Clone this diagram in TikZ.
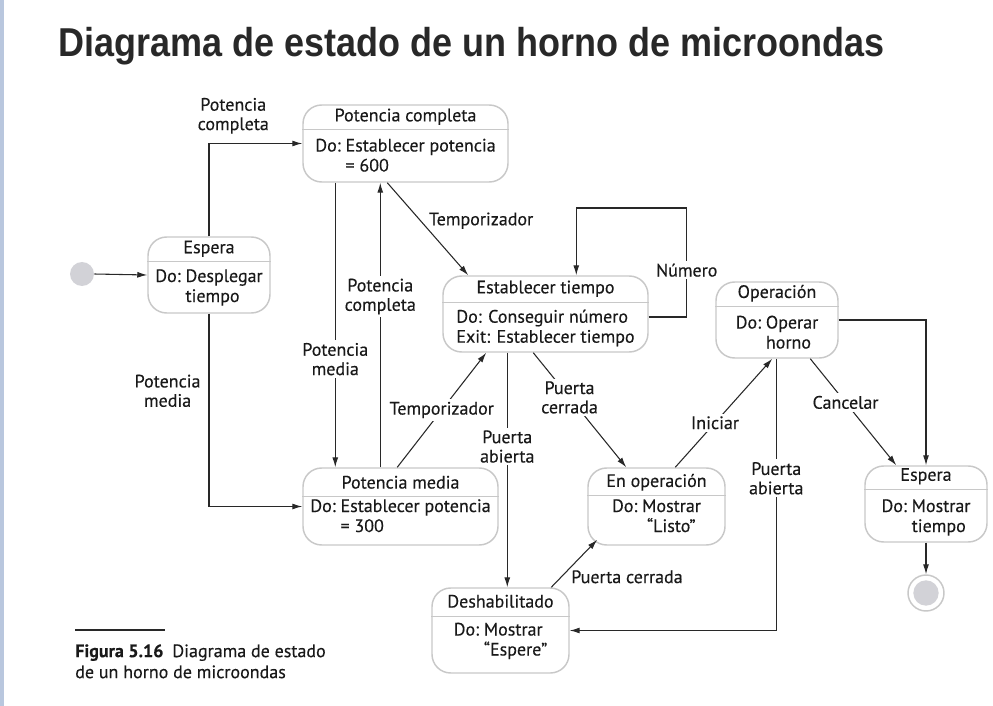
\documentclass[tikz,border=0pt]{standalone}
\usepackage{fontspec}
\setmainfont{PT Sans}
\newfontfamily\diagfont{PT Sans}[FakeBold=0.35]
\newfontfamily\titlefont{Liberation Sans}
\usepackage{graphicx}
\usetikzlibrary{arrows.meta, calc, fit}
\definecolor{boxgray}{RGB}{200,200,200}
\definecolor{linecol}{RGB}{40,40,40}
\definecolor{txtcol}{RGB}{25,25,25}
\definecolor{dotgray}{RGB}{210,210,215}
\definecolor{barblue}{RGB}{185,199,222}
\definecolor{titlecol}{RGB}{40,40,40}

\begin{document}
\begin{tikzpicture}[
    x=0.75pt, y=-0.75pt,
    state/.style={draw=boxgray, line width=1.1pt, rounded corners=14pt, inner sep=0pt},
    split/.style={draw=boxgray, line width=1.1pt},
    txt/.style={font=\diagfont\fontsize{13.5}{15}\selectfont, text=txtcol, inner sep=0pt},
    arrow/.style={-{Latex[length=7.5pt,width=4.5pt]}, draw=linecol, line width=0.8pt},
    lbl/.style={font=\diagfont\fontsize{13.5}{14.5}\selectfont, text=txtcol, align=center, inner sep=2pt},
    gap/.style={lbl, fill=white}
]
    \useasboundingbox (0,0) rectangle (993,706);
    \fill[barblue] (0,0) rectangle (4,706);
    \node[anchor=base west, inner sep=0pt, text=titlecol,
          font=\titlefont\bfseries\fontsize{27}{30}\selectfont] (title) at (58,57)
          {\scalebox{1}[1.12]{Diagrama de estado de un horno de microondas}};

    % estados
    \node[circle, fill=dotgray, minimum size=18pt, inner sep=0pt] (ini) at (82,274) {};

    \node[state, fit={(148,237) (270,313)}] (esp) {};
    \node[txt] (esp-h) at ($(esp.north)+(0,12.5)$) {Espera};
    \draw[split] ($(esp.north west)+(0,25)$) -- ($(esp.north east)+(0,25)$);
    \node[txt] (esp-b) at ($(esp.center)+(0,13)$) {Do:~\begin{tabular}[t]{@{}l@{}}Desplegar\\tiempo\end{tabular}};

    \node[state, fit={(303,105) (508,182)}] (pc) {};
    \node[txt] (pc-h) at ($(pc.north)+(0,12.5)$) {Potencia completa};
    \draw[split] ($(pc.north west)+(0,25)$) -- ($(pc.north east)+(0,25)$);
    \node[txt] (pc-b) at ($(pc.center)+(0,14)$) {Do:~\begin{tabular}[t]{@{}l@{}}Establecer potencia\\= 600\end{tabular}};

    \node[state, fit={(443,276) (648,352)}] (et) {};
    \node[txt] (et-h) at ($(et.north)+(0,13.5)$) {Establecer tiempo};
    \draw[split] ($(et.north west)+(0,27)$) -- ($(et.north east)+(0,27)$);
    \node[txt, align=left] (et-b) at ($(et.center)+(0,14)$) {Do: Conseguir número\\Exit: Establecer tiempo};

    \node[state, fit={(716,282) (838,358)}] (op) {};
    \node[txt] (op-h) at ($(op.north)+(0,12)$) {Operación};
    \draw[split] ($(op.north west)+(0,25)$) -- ($(op.north east)+(0,25)$);
    \node[txt] (op-b) at ($(op.center)+(0,14.5)$) {Do:~\begin{tabular}[t]{@{}l@{}}Operar\\horno\end{tabular}};

    \node[state, fit={(303,468) (498,545)}] (pm) {};
    \node[txt] (pm-h) at ($(pm.north)+(0,15)$) {Potencia media};
    \draw[split] ($(pm.north west)+(0,29)$) -- ($(pm.north east)+(0,29)$);
    \node[txt] (pm-b) at ($(pm.center)+(0,11.5)$) {Do:~\begin{tabular}[t]{@{}l@{}}Establecer potencia\\= 300\end{tabular}};

    \node[state, fit={(588,468) (725,545)}] (eo) {};
    \node[txt] (eo-h) at ($(eo.north)+(0,15)$) {En operación};
    \draw[split] ($(eo.north west)+(0,28)$) -- ($(eo.north east)+(0,28)$);
    \node[txt] (eo-b) at ($(eo.center)+(0,11.5)$) {Do:~\begin{tabular}[t]{@{}l@{}}Mostrar\\\ “Listo”\end{tabular}};

    \node[state, fit={(432,588) (569,673)}] (des) {};
    \node[txt] (des-h) at ($(des.north)+(0,14)$) {Deshabilitado};
    \draw[split] ($(des.north west)+(0,29)$) -- ($(des.north east)+(0,29)$);
    \node[txt] (des-b) at ($(des.center)+(0,11)$) {Do:~\begin{tabular}[t]{@{}l@{}}Mostrar\\“Espere”\end{tabular}};

    \node[state, fit={(865,466) (987,542)}] (esr) {};
    \node[txt] (esr-h) at ($(esr.north)+(0,11)$) {Espera};
    \draw[split] ($(esr.north west)+(0,24)$) -- ($(esr.north east)+(0,24)$);
    \node[txt] (esr-b) at ($(esr.center)+(0,14)$) {Do:~\begin{tabular}[t]{@{}l@{}}Mostrar\\tiempo\end{tabular}};

    \node[circle, draw=boxgray, line width=1.1pt, fill=white, minimum size=27pt, inner sep=0pt] (fin) at (926,593) {};
    \node[circle, fill=dotgray, minimum size=19pt, inner sep=0pt] (fin-in) at (fin.center) {};

    % transiciones
    \draw[arrow] (ini.east) -- (esp.west);
    \draw[arrow] (esp.north) |- node[lbl, above=5pt, pos=0.63] (l1) {Potencia\\completa} (pc.west);
    \draw[arrow] (esp.south) |- node[lbl, left=4pt, pos=0.2] (l2) {Potencia\\media} (pm.west);
    \draw[arrow] ($(pc.south west)+(33,0)$) -- node[gap, pos=0.62] (l3) {Potencia\\media} ($(pm.north west)+(33,0)$);
    \draw[arrow] ($(pm.north west)+(78,0)$) -- node[gap, pos=0.6] (l4) {Potencia\\completa} ($(pc.south west)+(78,0)$);
    \draw[arrow] ($(pc.south west)+(85,0)$) -- node[lbl, right=4pt, pos=0.41] (l5) {Temporizador} ($(et.north west)+(26,0)$);
    \draw[arrow] ($(pm.north west)+(95,0)$) -- node[gap, pos=0.5] (l6) {Temporizador} ($(et.south west)+(44,0)$);
    \draw[arrow] ($(et.east)+(0,3)$) -- ++(38,0) -- node[gap, pos=0.43] (l7) {Número} ++(0,-109) -| ($(et.north west)+(134,0)$);
    \draw[arrow] ($(et.south west)+(65,0)$) -- node[gap, pos=0.4] (l8) {Puerta\\abierta} ($(des.north west)+(76,0)$);
    \draw[arrow] ($(et.south west)+(91,0)$) -- node[gap, pos=0.39] (l9) {Puerta\\cerrada} ($(eo.north west)+(39,0)$);
    \draw[arrow] ($(eo.north west)+(88,0)$) -- node[gap, pos=0.41] (l10) {Iniciar} ($(op.south west)+(57,0)$);
    \draw[arrow] ($(op.south west)+(61,0)$) |- node[gap, pos=0.22] (l11) {Puerta\\abierta} (des.east);
    \draw[arrow] (op.east) -| (esr.north);
    \draw[arrow] ($(op.south west)+(95,0)$) -- node[gap, pos=0.41] (l12) {Cancelar} ($(esr.north west)+(32,0)$);
    \draw[arrow] ($(des.north west)+(120,0)$) -- node[lbl, right=5pt, pos=0.22] (l13) {Puerta cerrada} ($(eo.south west)+(10,-6)$);
    \draw[arrow] (esr.south) -- (fin.north);

    % pie de figura
    \draw[draw=linecol, line width=0.8pt] (75,630) -- (165,630);
    \node[anchor=north west, align=left, inner sep=0pt, text=txtcol, font=\diagfont\fontsize{13.5}{15.75}\selectfont] (cap) at (75,644)
        {\textbf{Figura 5.16}\enspace Diagrama de estado\\de un horno de microondas};
\end{tikzpicture}
\end{document}
